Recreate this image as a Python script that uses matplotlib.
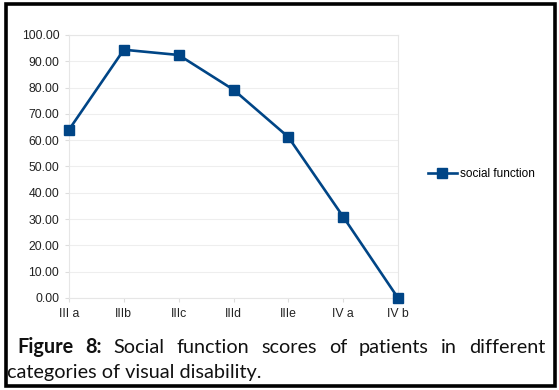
import matplotlib
matplotlib.use("Agg")
import matplotlib.pyplot as plt
from matplotlib.patches import Rectangle

categories = ["III a", "IIIb", "IIIc", "IIId", "IIIe", "IV a", "IV b"]
values = [64.0, 94.4, 92.4, 79.2, 61.2, 30.9, 0.0]
series_name = "social function"
yticks = [0, 10, 20, 30, 40, 50, 60, 70, 80, 90, 100]

W, H = 559, 390
fig = plt.figure(figsize=(W / 100, H / 100), dpi=100)
fig.patch.set_facecolor("white")

ax = fig.add_axes([69 / W, 1 - 298 / H, (398 - 69) / W, (298 - 35) / H])
x = list(range(len(categories)))
ax.plot(x, values, color="#004586", lw=1.9, marker="s", ms=6.5,
        label=series_name, clip_on=False, zorder=3)
ax.set_xlim(0, len(categories) - 1)
ax.set_ylim(0, 100)
ax.set_yticks(yticks)
ax.set_yticklabels([f"{v:.2f}" for v in yticks], fontsize=8.8, family="Liberation Sans", color="#222222")
ax.set_xticks(x)
ax.set_xticklabels(categories, fontsize=8.8, family="Liberation Sans", color="#222222")
ax.grid(axis="y", color="#eeeeee", lw=0.8)
ax.grid(axis="x", visible=False)
for s in ax.spines.values():
    s.set_color("#e6e6e6")
    s.set_linewidth(0.8)
ax.tick_params(axis="y", length=3, color="#dddddd", pad=4)
ax.tick_params(axis="x", length=3, color="#dddddd", pad=4.5)
ax.set_facecolor("white")

leg = fig.legend(loc="center left", bbox_to_anchor=(417 / W, 1 - 174 / H),
                 frameon=False, prop={"family": "Liberation Sans", "size": 8.5},
                 handlelength=2.5, handletextpad=0.2)

# border
fig.add_artist(Rectangle((6 / W, 4.5 / H), (554.5 - 6) / W, (386.5 - 4.5) / H,
                         transform=fig.transFigure, fill=False, ec="black", lw=2.6))

# caption with justification
fig.canvas.draw()
r = fig.canvas.get_renderer()
cap_font = "Lato"
line2 = "categories of visual disability."
t2 = fig.text(7 / W, 1 - 378 / H, line2, fontsize=10, family=cap_font,
              va="baseline", ha="left", color="#111111")
w10 = t2.get_window_extent(renderer=r).width
fs = 10 * (262 - 7) / w10
t2.set_fontsize(fs)

line1 = [("Figure", "bold"), ("8:", "bold"), ("Social", "normal"), ("function", "normal"),
         ("scores", "normal"), ("of", "normal"), ("patients", "normal"), ("in", "normal"),
         ("different", "normal")]
x0, x1 = 17, 545
y1 = 1 - 353 / H
texts = []
widths = []
for w, wt in line1:
    t = fig.text(0, y1, w, fontsize=fs, family=cap_font, weight=wt, va="baseline", ha="left", color="#111111")
    texts.append(t)
    widths.append(t.get_window_extent(renderer=r).width)
gap = ((x1 - x0) - sum(widths)) / (len(widths) - 1)
cur = x0
for t, wd in zip(texts, widths):
    t.set_x(cur / W)
    cur += wd + gap

fig.savefig("out.png", dpi=100)
